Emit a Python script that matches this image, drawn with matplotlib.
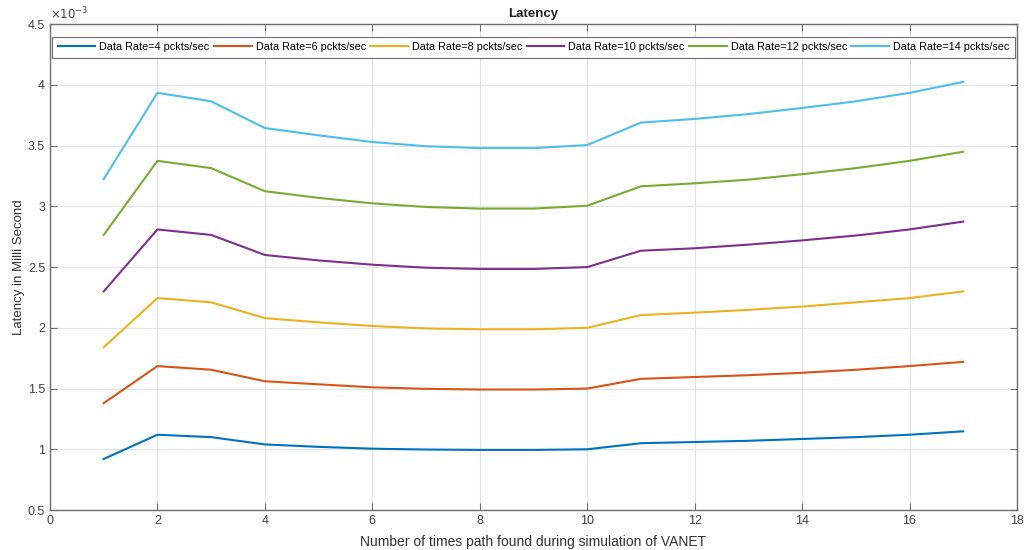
import numpy as np
import matplotlib.pyplot as plt
from matplotlib.ticker import FuncFormatter

plt.rcParams['font.family'] = ['Liberation Sans', 'DejaVu Sans']

# latency values (units of 1e-3)
x = np.arange(1, 18)
rate4 = [0.92, 1.12, 1.10, 1.04, 1.02, 1.005, 0.998, 0.995, 0.995, 1.0,
         1.05, 1.06, 1.07, 1.085, 1.10, 1.12, 1.148]
rate6 = [1.38, 1.685, 1.655, 1.56, 1.535, 1.51, 1.498, 1.492, 1.492, 1.50,
         1.58, 1.595, 1.61, 1.63, 1.655, 1.685, 1.72]
rate8 = [1.84, 2.245, 2.21, 2.08, 2.045, 2.015, 1.995, 1.988, 1.988, 2.0,
         2.105, 2.125, 2.148, 2.175, 2.21, 2.245, 2.30]
rate10 = [2.30, 2.81, 2.765, 2.60, 2.555, 2.52, 2.495, 2.485, 2.485, 2.50,
          2.635, 2.655, 2.685, 2.72, 2.76, 2.81, 2.875]
rate12 = [2.765, 3.375, 3.315, 3.125, 3.07, 3.025, 2.995, 2.982, 2.982, 3.005,
          3.165, 3.19, 3.22, 3.265, 3.315, 3.375, 3.45]
rate14 = [3.225, 3.935, 3.865, 3.645, 3.585, 3.53, 3.495, 3.48, 3.48, 3.505,
          3.69, 3.72, 3.76, 3.81, 3.865, 3.935, 4.025]

series = [rate4, rate6, rate8, rate10, rate12, rate14]
labels = ['Data Rate=4 pckts/sec', 'Data Rate=6 pckts/sec', 'Data Rate=8 pckts/sec',
          'Data Rate=10 pckts/sec', 'Data Rate=12 pckts/sec', 'Data Rate=14 pckts/sec']
colors = ['#0072BD', '#D95319', '#EDB120', '#7E2F8E', '#77AC30', '#4DBEEE']

fig = plt.figure(figsize=(10.35, 5.5), dpi=100)
ax = fig.add_axes([0.0483, 0.0727, 0.9343, 0.8833])

for y, lab, c in zip(series, labels, colors):
    ax.plot(x, np.array(y) * 1e-3, color=c, lw=1.5, label=lab)

ax.set_xlim(0, 18)
ax.set_ylim(0.5e-3, 4.5e-3)
ax.set_xticks(np.arange(0, 19, 2))
ax.set_yticks(np.arange(0.5, 4.51, 0.5) * 1e-3)
ax.yaxis.set_major_formatter(FuncFormatter(lambda v, p: '%g' % round(v * 1e3, 3)))
ax.text(0.0, 1.004, r'$\times 10^{-3}$', transform=ax.transAxes, fontsize=8.5,
        color='#404040', ha='left', va='bottom')

ax.grid(True, color='#e3e3e3', lw=0.8)
ax.set_axisbelow(True)
for s in ax.spines.values():
    s.set_color('#6e6e6e')
    s.set_linewidth(1.0)
ax.tick_params(direction='in', top=True, right=True, length=5, width=0.8,
               color='#6e6e6e', labelcolor='#404040', labelsize=9)

ax.set_title('Latency', fontsize=9.5, fontweight='bold', color='#202020', pad=5)
ax.set_xlabel('Number of times path found during simulation of VANET', fontsize=10,
              color='#303030', labelpad=6)
ax.set_ylabel('Latency in Milli Second', fontsize=9.5, color='#303030', labelpad=2)

leg = ax.legend(loc='upper center', bbox_to_anchor=(0.5, 0.974),
                ncol=6, fontsize=7.8, frameon=True, fancybox=False,
                handlelength=3.5, handletextpad=0.35, columnspacing=0.4,
                borderpad=0.5, borderaxespad=0)
leg.get_frame().set_edgecolor('#6e6e6e')
leg.get_frame().set_linewidth(0.8)
leg.get_frame().set_alpha(1)

plt.savefig('out.png')
